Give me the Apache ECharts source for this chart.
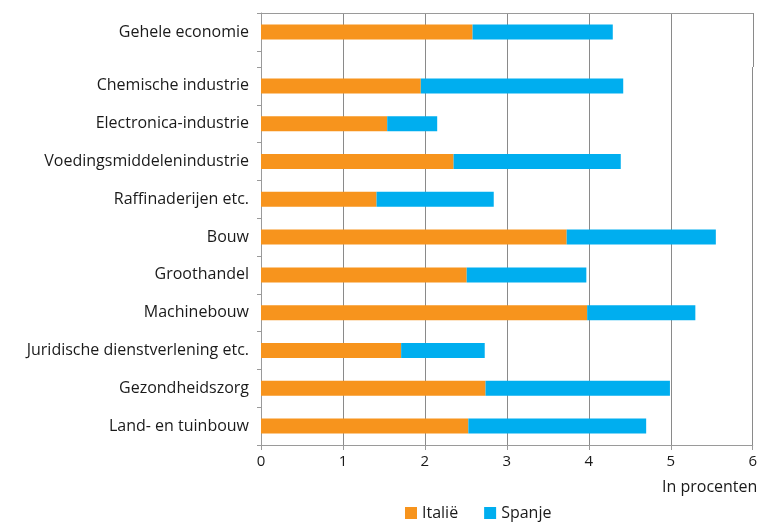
<!DOCTYPE html>
<html><head><meta charset="utf-8">
<script src="https://cdn.jsdelivr.net/npm/echarts@6/dist/echarts.min.js"></script>
<style>html,body{margin:0;padding:0;background:#fff}#c{width:760px;height:524px}</style>
</head><body><div id="c"></div>
<script>
const totalCategory = ['Gehele economie'];
const totalItaly = [2.58];
const totalSpain = [1.71];
const categories = ['Chemische industrie','Electronica-industrie','Voedingsmiddelenindustrie','Raffinaderijen etc.','Bouw','Groothandel','Machinebouw','Juridische dienstverlening etc.','Gezondheidszorg','Land- en tuinbouw'];
const italy = [1.95,1.54,2.35,1.41,3.73,2.51,3.98,1.71,2.74,2.53];
const spain = [2.47,0.61,2.04,1.43,1.82,1.46,1.32,1.02,2.25,2.17];
const xTicks = ['0','1','2','3','4','5','6'];

const FONT = 'Open Sans';
const ORANGE = '#F7941D', BLUE = '#00AEEF';
const gridCol = '#8a8a8a', axisCol = '#9a9a9a';
const TXT = '#1a1a1a';
const L = 261, R = 7;

function xAxis(i, opts) {
  return Object.assign({
    gridIndex: i, type: 'value', min: 0, max: 6, interval: 1,
    splitLine: {show: true, lineStyle: {color: gridCol, width: 1}},
    axisLine: {show: false}, axisTick: {show: false}, axisLabel: {show: false}
  }, opts || {});
}
function yAxis(i, data, showLabel) {
  return {
    gridIndex: i, type: 'category', inverse: true, data: data,
    axisLine: {show: true, lineStyle: {color: axisCol}},
    axisTick: {show: true, length: 4, lineStyle: {color: axisCol}},
    axisLabel: {show: showLabel, fontFamily: FONT, fontSize: 16, color: TXT, margin: 12},
    splitLine: {show: false}
  };
}

const chart = echarts.init(document.getElementById('c'));
chart.setOption({
  animation: false,
  title: {text: 'In procenten', left: 657, top: 474,
    textStyle: {fontFamily: FONT, fontSize: 16, fontWeight: 'normal', color: TXT}},
  legend: {
    data: ['Italië', 'Spanje'], left: 400, top: 500, icon: 'rect',
    itemWidth: 12, itemHeight: 12, itemGap: 26,
    textStyle: {fontFamily: FONT, fontSize: 16, color: TXT}
  },
  grid: [
    {left: L, right: R, top: 13, height: 38},
    {left: L, right: R, top: 51, height: 16},
    {left: L, right: R, top: 67, height: 378}
  ],
  xAxis: [
    xAxis(0, {position: 'top', axisLine: {show: true, lineStyle: {color: axisCol}}}),
    xAxis(1),
    xAxis(2, {
      axisLine: {show: true, lineStyle: {color: axisCol}},
      axisTick: {show: true, length: 5, lineStyle: {color: axisCol}},
      axisLabel: {show: true, fontFamily: FONT, fontSize: 15, color: TXT, margin: 9,
        formatter: v => xTicks[v]}
    })
  ],
  yAxis: [
    yAxis(0, totalCategory, true),
    yAxis(1, [''], false),
    yAxis(2, categories, true)
  ],
  series: [
    {name: 'Italië', type: 'bar', stack: 'a', xAxisIndex: 0, yAxisIndex: 0, data: totalItaly, barWidth: 15, itemStyle: {color: ORANGE}},
    {name: 'Spanje', type: 'bar', stack: 'a', xAxisIndex: 0, yAxisIndex: 0, data: totalSpain, barWidth: 15, itemStyle: {color: BLUE}},
    {name: 'Italië', type: 'bar', stack: 'b', xAxisIndex: 2, yAxisIndex: 2, data: italy, barWidth: 15, itemStyle: {color: ORANGE}},
    {name: 'Spanje', type: 'bar', stack: 'b', xAxisIndex: 2, yAxisIndex: 2, data: spain, barWidth: 15, itemStyle: {color: BLUE}}
  ]
});
</script></body></html>
